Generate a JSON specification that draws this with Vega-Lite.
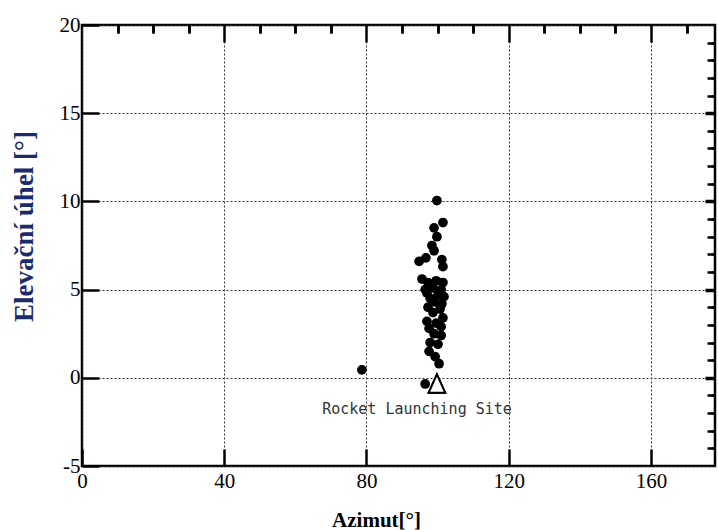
{
  "$schema": "https://vega.github.io/schema/vega-lite/v6.json",
  "autosize": "none",
  "width": 633,
  "height": 441,
  "padding": {"left": 82, "top": 25, "right": 3, "bottom": 64},
  "background": "white",
  "config": {
    "view": {"stroke": "black", "strokeWidth": 2.5},
    "axis": {
      "labelFont": "Liberation Serif",
      "titleFont": "Liberation Serif",
      "labelColor": "black",
      "tickColor": "black",
      "tickWidth": 2.5,
      "domain": false,
      "gridColor": "#333",
      "gridDash": [2, 2],
      "gridWidth": 1,
      "gridOpacity": 1
    }
  },
  "datasets": {
    "pts": [
      {"az": 99.8, "el": 10.05}, {"az": 101.5, "el": 8.8}, {"az": 99.0, "el": 8.5}, {"az": 99.8, "el": 8.0},
      {"az": 98.4, "el": 7.5}, {"az": 99.0, "el": 7.2}, {"az": 96.7, "el": 6.8}, {"az": 94.8, "el": 6.6},
      {"az": 101.2, "el": 6.7}, {"az": 101.5, "el": 6.3}, {"az": 95.6, "el": 5.6}, {"az": 97.3, "el": 5.4},
      {"az": 99.6, "el": 5.5}, {"az": 101.5, "el": 5.4}, {"az": 96.5, "el": 5.0}, {"az": 98.7, "el": 5.1},
      {"az": 101.0, "el": 5.0}, {"az": 97.0, "el": 4.8}, {"az": 100.1, "el": 4.7}, {"az": 101.8, "el": 4.6},
      {"az": 97.9, "el": 4.5}, {"az": 99.3, "el": 4.3}, {"az": 101.2, "el": 4.2}, {"az": 97.3, "el": 4.0},
      {"az": 100.7, "el": 3.9}, {"az": 98.7, "el": 3.7}, {"az": 101.5, "el": 3.4}, {"az": 97.0, "el": 3.2},
      {"az": 99.6, "el": 3.1}, {"az": 101.0, "el": 2.9}, {"az": 97.6, "el": 2.8}, {"az": 99.0, "el": 2.5},
      {"az": 101.0, "el": 2.4}, {"az": 97.9, "el": 2.0}, {"az": 100.1, "el": 1.9}, {"az": 97.6, "el": 1.5},
      {"az": 99.3, "el": 1.2}, {"az": 100.4, "el": 0.8}, {"az": 78.7, "el": 0.45}, {"az": 96.5, "el": -0.35}
    ],
    "site": [{"az": 99.8, "el": -0.35}],
    "label": [{"az": 94.2, "el": -1.76, "text": "Rocket Launching Site"}]
  },
  "resolve": {"axis": {"x": "independent", "y": "independent"}},
  "layer": [
    {
      "data": {"name": "pts"},
      "mark": {"type": "point", "filled": true, "color": "black", "size": 95, "opacity": 1},
      "encoding": {
        "x": {
          "field": "az", "type": "quantitative",
          "scale": {"domain": [0, 178], "nice": false, "zero": false},
          "axis": {
            "values": [0, 40, 80, 120, 160], "tickSize": -17, "labelPadding": 21,
            "labelFontSize": 21, "grid": true, "labelFlush": false,
            "title": "Azimut[°]", "titleFontSize": 21, "titleFontWeight": "bold",
            "titleColor": "black", "titleX": 294, "titleY": 54, "titleBaseline": "middle", "titleAlign": "center"
          }
        },
        "y": {
          "field": "el", "type": "quantitative",
          "scale": {"domain": [-5, 20], "nice": false, "zero": false},
          "axis": {
            "values": [-5, 0, 5, 10, 15, 20], "tickSize": -17, "labelPadding": 19,
            "labelExpr": "'' + datum.value",
            "labelFontSize": 21, "grid": true, "labelFlush": false,
            "title": "Elevační úhel [°]", "titleFontSize": 27, "titleFontWeight": "bold",
            "titleColor": "#1c2b6b", "titleX": -58, "titleY": 201, "titleBaseline": "middle", "titleAlign": "center", "titleAngle": -90
          }
        }
      }
    },
    {
      "data": {"name": "site"},
      "mark": {"type": "point", "shape": "M0,-1.1L-0.95,1L0.95,1Z", "filled": true, "fill": "white", "stroke": "black", "strokeWidth": 2, "size": 300, "opacity": 1},
      "encoding": {
        "x": {
          "field": "az", "type": "quantitative",
          "axis": {"values": [10, 20, 30, 50, 60, 70, 90, 100, 110, 130, 140, 150, 170], "tickSize": -8, "labels": false, "grid": false, "title": null}
        },
        "y": {
          "field": "el", "type": "quantitative",
          "axis": {"values": [-4, -3, -2, -1, 1, 2, 3, 4, 6, 7, 8, 9, 11, 12, 13, 14, 16, 17, 18, 19], "tickSize": -8, "labels": false, "grid": false, "title": null}
        }
      }
    },
    {
      "data": {"name": "label"},
      "mark": {"type": "text", "font": "DejaVu Sans Mono", "fontSize": 15, "color": "#333", "align": "center", "baseline": "middle"},
      "encoding": {
        "x": {
          "field": "az", "type": "quantitative",
          "axis": {"orient": "top", "values": [10, 20, 30, 50, 60, 70, 90, 100, 110, 130, 140, 150, 170], "tickSize": -8, "labels": false, "grid": false, "title": null}
        },
        "y": {
          "field": "el", "type": "quantitative",
          "axis": {"orient": "right", "values": [-4, -3, -2, -1, 1, 2, 3, 4, 6, 7, 8, 9, 11, 12, 13, 14, 16, 17, 18, 19], "tickSize": -4, "labels": false, "grid": false, "title": null}
        },
        "text": {"field": "text"}
      }
    },
    {
      "data": {"name": "site"},
      "mark": {"type": "point", "shape": "M0,-1.1L-0.95,1L0.95,1Z", "filled": true, "fill": "white", "stroke": "black", "strokeWidth": 2, "size": 300, "opacity": 1},
      "encoding": {
        "x": {
          "field": "az", "type": "quantitative",
          "axis": {"orient": "top", "values": [40, 80, 120, 160], "tickSize": -17, "labels": false, "grid": false, "title": null}
        },
        "y": {
          "field": "el", "type": "quantitative",
          "axis": {"orient": "right", "values": [0, 5, 10, 15], "tickSize": -10, "tickWidth": 3.5, "labels": false, "grid": false, "title": null}
        }
      }
    }
  ]
}
